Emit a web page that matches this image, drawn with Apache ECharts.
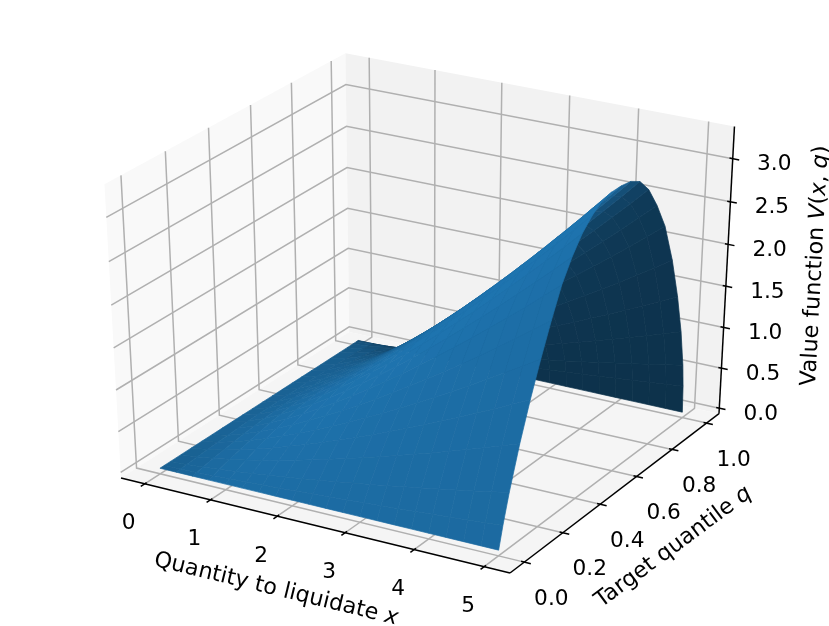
<!DOCTYPE html>
<html><head><meta charset="utf-8">
<style>html,body{margin:0;padding:0;background:#fff}#c{width:829px;height:626px}</style>
<script src="https://cdn.jsdelivr.net/npm/echarts@6/dist/echarts.min.js"></script>
</head><body><div id="c"></div>
<script>
const xTicks=[0,1,2,3,4,5];
const qTicks=[0,0.2,0.4,0.6,0.8,1];
const zTicks=[0,0.5,1,1.5,2,2.5,3];
const xTitle='{n|Quantity to liquidate }{i|x}';
const qTitle='{n|Target quantile }{i|q}';
const zTitle='{n|Value function }{i|V}{n|(}{i|x}{n|, }{i|q}{n|)}';
const xValues=[0,0.25,0.5,0.75,1,1.25,1.5,1.75,2,2.25,2.5,2.75,3,3.25,3.5,3.75,4,4.25,4.5,4.75,5];
const qValues=[0,0.02,0.05,0.1,0.15,0.2,0.25,0.3,0.35,0.4,0.45,0.5,0.55,0.6,0.65,0.7,0.75,0.8,0.85,0.9,0.94,0.97,0.99,0.997,1];
const surface=[
[0,0,0,0,0,0,0,0,0,0,0,0,0,0,0,0,0,0,0,0,0,0,0,0,0],
[0,.005,.011,.020,.028,.036,.042,.048,.053,.056,.059,.060,.061,.061,.061,.059,.056,.052,.046,.037,.028,.019,.011,.006,0],
[0,.012,.028,.051,.071,.089,.106,.122,.133,.142,.148,.152,.154,.154,.153,.149,.142,.130,.116,.094,.071,.049,.028,.015,0],
[0,.021,.048,.087,.122,.153,.182,.209,.228,.243,.253,.261,.263,.263,.261,.256,.243,.223,.198,.160,.121,.083,.048,.026,0],
[0,.031,.071,.128,.179,.225,.267,.306,.334,.356,.372,.382,.386,.386,.383,.375,.356,.327,.290,.235,.178,.122,.071,.039,0],
[0,.041,.095,.172,.240,.302,.359,.411,.449,.479,.500,.514,.519,.519,.516,.505,.479,.440,.391,.316,.239,.165,.095,.052,0],
[0,.052,.121,.220,.307,.385,.458,.524,.573,.611,.637,.656,.662,.662,.658,.643,.611,.561,.498,.403,.305,.210,.121,.067,0],
[0,.064,.149,.270,.376,.473,.562,.644,.703,.750,.782,.804,.812,.812,.807,.790,.750,.688,.611,.495,.374,.257,.149,.082,0],
[0,.077,.177,.322,.449,.565,.671,.769,.840,.896,.934,.961,.970,.970,.964,.943,.896,.822,.730,.591,.446,.307,.177,.098,0],
[0,.090,.207,.377,.526,.660,.785,.899,.982,1.048,1.093,1.124,1.134,1.134,1.127,1.103,1.048,.961,.854,.692,.522,.360,.207,.114,0],
[0,.103,.239,.434,.605,.760,.903,1.034,1.130,1.205,1.257,1.293,1.305,1.305,1.297,1.269,1.205,1.106,.983,.796,.601,.414,.239,.131,0],
[0,.117,.271,.492,.686,.862,1.025,1.174,1.282,1.368,1.427,1.467,1.481,1.481,1.472,1.440,1.368,1.255,1.115,.903,.682,.470,.271,.149,0],
[0,.132,.304,.553,.771,.968,1.151,1.318,1.440,1.536,1.602,1.648,1.663,1.663,1.653,1.617,1.536,1.409,1.252,1.014,.766,.527,.304,.167,0],
[0,.147,.338,.615,.857,1.077,1.280,1.466,1.601,1.709,1.782,1.833,1.850,1.850,1.838,1.799,1.709,1.568,1.393,1.128,.851,.586,.338,.186,0],
[0,.162,.373,.678,.946,1.189,1.413,1.618,1.768,1.886,1.967,2.023,2.041,2.041,2.029,1.985,1.886,1.730,1.537,1.245,.940,.647,.373,.205,0],
[0,.177,.409,.743,1.037,1.303,1.548,1.773,1.937,2.066,2.155,2.217,2.237,2.237,2.223,2.176,2.066,1.896,1.685,1.364,1.030,.709,.409,.225,0],
[0,.193,.446,.810,1.129,1.419,1.687,1.932,2.110,2.251,2.348,2.415,2.437,2.437,2.422,2.370,2.251,2.066,1.835,1.486,1.122,.773,.446,.245,0],
[0,.209,.483,.878,1.225,1.539,1.829,2.095,2.288,2.441,2.546,2.619,2.643,2.643,2.627,2.570,2.441,2.240,1.990,1.611,1.217,.838,.483,.266,0],
[0,.226,.521,.947,1.321,1.660,1.973,2.259,2.468,2.633,2.746,2.824,2.850,2.850,2.833,2.772,2.633,2.416,2.146,1.738,1.312,.904,.521,.287,0],
[0,.243,.560,1.018,1.420,1.784,2.120,2.428,2.653,2.830,2.951,3.036,3.064,3.064,3.045,2.979,2.830,2.597,2.307,1.868,1.410,.971,.560,.308,0],
[0,.26,.60,1.09,1.52,1.91,2.27,2.60,2.84,3.03,3.16,3.25,3.28,3.28,3.26,3.19,3.03,2.78,2.47,2.00,1.51,1.04,.60,.33,0]
];

// axis limits of the 3D box (data units)
const xLim=[-0.25,5.25], qLim=[-0.05,1.05], zLim=[0,3.3];
const FS=21.67, FS_TITLE=22.3;
const FONT='"DejaVu Sans"';

// matplotlib-style perspective: elev 30, azim -60, dist 10
const U=[0.8660254,0.5,0], W=[-0.25,0.4330127,0.8660254], N=[0.4330127,-0.75,0.5];
const SX=4311, OX=424.8, SY=3217, OY=303.9, DIST=10;
function worldD(x,q,z){return [(x-xLim[0])/(xLim[1]-xLim[0])-.5,(q-qLim[0])/(qLim[1]-qLim[0])-.5,(z-zLim[0])/(zLim[1]-zLim[0])-.5];}
const dot=(a,b)=>a[0]*b[0]+a[1]*b[1]+a[2]*b[2];
function project(x,q,z){
  const d=worldD(x,q,z), w=DIST-dot(N,d);
  return [OX+SX*dot(U,d)/w, OY-SY*dot(W,d)/w];
}
function depth(x,q,z){return DIST-dot(N,worldD(x,q,z));}
const pad=l=>[l[0]-(l[1]-l[0])/48,l[1]+(l[1]-l[0])/48];
const xP=pad(xLim), qP=pad(qLim), zP=pad(zLim);
const dX=(xLim[1]-xLim[0])/12, dQ=(qLim[1]-qLim[0])/12;

// panes
const panes=[
 {c:'#f9f9f9',p:[[xP[0],qP[0],zP[0]],[xP[0],qP[1],zP[0]],[xP[0],qP[1],zP[1]],[xP[0],qP[0],zP[1]]]},
 {c:'#f2f2f2',p:[[xP[0],qP[1],zP[0]],[xP[1],qP[1],zP[0]],[xP[1],qP[1],zP[1]],[xP[0],qP[1],zP[1]]]},
 {c:'#f5f5f5',p:[[xP[0],qP[0],zP[0]],[xP[1],qP[0],zP[0]],[xP[1],qP[1],zP[0]],[xP[0],qP[1],zP[0]]]}
];
// grid lines
const gridLines=[];
xTicks.forEach(v=>gridLines.push([[v,qP[0],zP[0]],[v,qP[1],zP[0]],[v,qP[1],zP[1]]]));
qTicks.forEach(v=>gridLines.push([[xP[1],v,zP[0]],[xP[0],v,zP[0]],[xP[0],v,zP[1]]]));
zTicks.forEach(v=>gridLines.push([[xP[0],qP[0],v],[xP[0],qP[1],v],[xP[1],qP[1],v]]));
// axis lines
const axisLines=[
 [[xP[0],qP[0],zP[0]],[xP[1],qP[0],zP[0]]],
 [[xP[1],qP[0],zP[0]],[xP[1],qP[1],zP[0]]],
 [[xP[1],qP[1],zP[0]],[xP[1],qP[1],zP[1]]]
];
// tick marks
const tickLines=[];
xTicks.forEach(v=>tickLines.push([[v,qP[0]-.2*dQ,zP[0]],[v,qP[0]+.1*dQ,zP[0]]]));
qTicks.forEach(v=>tickLines.push([[xP[1]+.2*dX,v,zP[0]],[xP[1]-.1*dX,v,zP[0]]]));
zTicks.forEach(v=>tickLines.push([[xP[1]-.1*dX,qP[1],v],[xP[1]+.2*dX,qP[1],v]]));
// tick labels
const labels=[];
xTicks.forEach(v=>labels.push({t:String(v),p:[v,qP[0],zP[0]],dx:-16,dy:40}));
qTicks.forEach(v=>labels.push({t:v.toFixed(1),p:[xP[1],v,zP[0]],dx:27,dy:37}));
zTicks.forEach(v=>labels.push({t:v.toFixed(1),p:[xP[1],qP[1],v],dx:41.5,dy:6}));
// axis titles: anchor is a pixel offset from an axis mid point
const titles=[
 {t:xTitle,p:[2.5,qP[0],zP[0]],dx:-35,dy:65,r:-13.7},
 {t:qTitle,p:[xP[1],0.5,zP[0]],dx:55,dy:57,r:36.5},
 {t:zTitle,p:[xP[1],qP[1],1.65],dx:89,dy:-8,r:87}
];

// surface faces: shade from the face normal, lightly smoothed between neighbours
const nI=xValues.length-1, nJ=qValues.length-1, shade=[];
for(let i=0;i<nI;i++){shade.push([]);for(let j=0;j<nJ;j++){
  const dx=xValues[i+1]-xValues[i], dq=qValues[j+1]-qValues[j];
  const Vx=((surface[i+1][j]-surface[i][j])+(surface[i+1][j+1]-surface[i][j+1]))/2/dx;
  const Vq=((surface[i][j+1]-surface[i][j])+(surface[i+1][j+1]-surface[i+1][j]))/2/dq;
  shade[i].push((Vx+Vq+.5)/1.5/Math.sqrt(Vx*Vx+Vq*Vq+1));
}}
const clampI=i=>Math.max(0,Math.min(nI-1,i)), clampJ=j=>Math.max(0,Math.min(nJ-1,j));
const faces=[];
for(let i=0;i<nI;i++)for(let j=0;j<nJ;j++){
  const x0=xValues[i],x1=xValues[i+1],q0=qValues[j],q1=qValues[j+1];
  const dep=(depth(x0,q0,surface[i][j])+depth(x1,q0,surface[i+1][j])+depth(x1,q1,surface[i+1][j+1])+depth(x0,q1,surface[i][j+1]))/4;
  let s=0,wt=0;
  for(let a=-1;a<=1;a++)for(let b=-1;b<=1;b++){const w=(2-Math.abs(a))*(2-Math.abs(b));s+=w*shade[clampI(i+a)][clampJ(j+b)];wt+=w;}
  const k=.3+.7*(s/wt+1)/2;
  const col='rgb('+Math.round(31*k)+','+Math.round(119*k)+','+Math.round(180*k)+')';
  faces.push({i,j,dep,col});
}
faces.sort((a,b)=>b.dep-a.dep);

const pt=(api,p)=>api.coord(project(p[0],p[1],p[2]));
function lineSeries(list,color,width){
  return {type:'custom',coordinateSystem:'cartesian2d',silent:true,clip:false,animation:false,
    data:list.map((_,i)=>[i,0]),
    renderItem(params,api){
      return {type:'polyline',shape:{points:list[params.dataIndex].map(p=>pt(api,p))},
        style:{stroke:color,lineWidth:width,fill:null,lineCap:'butt',lineJoin:'miter'}};
    }};
}
const chart=echarts.init(document.getElementById('c'),null,{renderer:'canvas'});
chart.setOption({
  animation:false,backgroundColor:'#fff',
  grid:{left:0,right:0,top:0,bottom:0},
  xAxis:{type:'value',min:0,max:829,show:false},
  yAxis:{type:'value',min:0,max:626,inverse:true,show:false},
  tooltip:{show:false},
  series:[
    {type:'custom',coordinateSystem:'cartesian2d',silent:true,clip:false,animation:false,
     data:panes.map((_,i)=>[i,0]),
     renderItem(params,api){const P=panes[params.dataIndex];
       return {type:'polygon',shape:{points:P.p.map(p=>pt(api,p))},style:{fill:P.c,stroke:null}};}},
    lineSeries(gridLines,'#b0b0b0',1.5),
    lineSeries(axisLines,'#000',1.5),
    lineSeries(tickLines,'#000',1.5),
    {type:'custom',coordinateSystem:'cartesian2d',silent:true,clip:false,animation:false,
     data:faces.map(f=>[f.i,f.j]),
     renderItem(params,api){const f=faces[params.dataIndex];
       const i=f.i,j=f.j;
       const P=[[xValues[i],qValues[j],surface[i][j]],[xValues[i+1],qValues[j],surface[i+1][j]],
                [xValues[i+1],qValues[j+1],surface[i+1][j+1]],[xValues[i],qValues[j+1],surface[i][j+1]]];
       return {type:'polygon',shape:{points:P.map(p=>pt(api,p))},style:{fill:f.col,stroke:f.col,lineWidth:.7}};}},
    {type:'custom',coordinateSystem:'cartesian2d',silent:true,clip:false,animation:false,
     data:labels.map((_,i)=>[i,0]),
     renderItem(params,api){const L=labels[params.dataIndex];const c=pt(api,L.p);
       return {type:'text',x:c[0]+L.dx,y:c[1]+L.dy,style:{text:L.t,fill:'#000',fontSize:FS,fontFamily:FONT,align:'center',verticalAlign:'middle'}};}},
    {type:'custom',coordinateSystem:'cartesian2d',silent:true,clip:false,animation:false,
     data:titles.map((_,i)=>[i,0]),
     renderItem(params,api){const L=titles[params.dataIndex];const c=pt(api,L.p);
       return {type:'text',x:c[0]+L.dx,y:c[1]+L.dy,rotation:L.r*Math.PI/180,
         style:{text:L.t,fill:'#000',fontSize:FS_TITLE,fontFamily:FONT,align:'center',verticalAlign:'middle',
           rich:{n:{fontSize:FS_TITLE,fontFamily:FONT,fill:'#000'},i:{fontSize:FS_TITLE,fontFamily:FONT,fontStyle:'italic',fill:'#000'}}}};}}
  ]
});
</script></body></html>
